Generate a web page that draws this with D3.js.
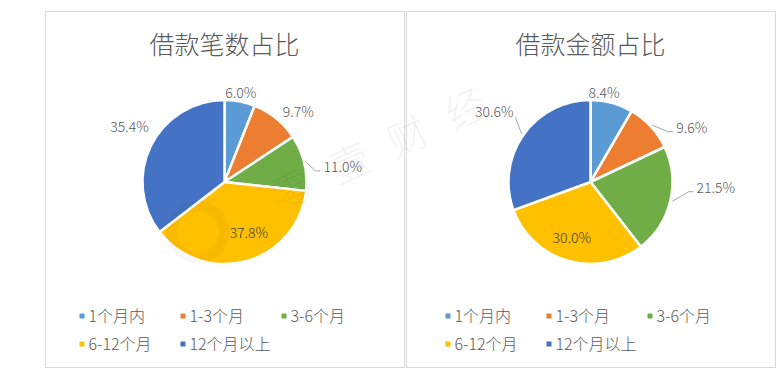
<!DOCTYPE html>
<html>
<head>
<meta charset="utf-8">
<script src="https://cdn.jsdelivr.net/npm/d3@7"></script>
<style>
  body { margin: 0; background: #fff; }
  text { font-family: "Noto Sans CJK SC", "Noto Sans", sans-serif; font-weight: 300; }
</style>
</head>
<body>
<div id="chart"></div>
<script>
const CATEGORIES = ["1个月内", "1-3个月", "3-6个月", "6-12个月", "12个月以上"]
const COLORS = ["#5B9BD5", "#ED7D31", "#70AD47", "#FFC000", "#4472C4"]

const COUNT_TITLE = "借款笔数占比"
const COUNT_VALUES = [6.0, 9.7, 11.0, 37.8, 35.4]

const AMOUNT_TITLE = "借款金额占比"
const AMOUNT_VALUES = [8.4, 9.6, 21.5, 30.0, 30.6]

// label placement tweaks (Excel "best fit"), per slice: [dx, dy, inside, leader]
const COUNT_LABELS = [[-2, 7, false, false], [12, 6, false, false], [23, 8, false, true], [10, 0, true, false], [-7, -12, false, false]]
const AMOUNT_LABELS = [[-12, 6, false, false], [29, 12, false, true], [30, -17, false, true], [-4, 5, true, false], [-16, -14, false, true]]

var width = 778,
    height = 380;

var svg = d3.select("#chart").append("svg")
  .attr("width", width)
  .attr("height", height);

const radius = 82;
const pie = d3.pie().sort(null).value(d => d);
const arc = d3.arc().innerRadius(0).outerRadius(radius);

drawPanel({x0: 45, x1: 404, cy: 182}, COUNT_TITLE, COUNT_VALUES, COUNT_LABELS);
drawPanel({x0: 406, x1: 775, cy: 182}, AMOUNT_TITLE, AMOUNT_VALUES, AMOUNT_LABELS);

// faint watermark across the middle
var wm = svg.append("g")
  .attr("transform", "translate(280,212) rotate(-25)");
wm.append("text")
  .attr("font-size", 40)
  .attr("fill", "#000")
  .attr("fill-opacity", 0.06)
  .attr("letter-spacing", 24)
  .text("零壹财经");
svg.append("circle")
  .attr("cx", 198).attr("cy", 232).attr("r", 26)
  .attr("fill", "none")
  .attr("stroke", "#000").attr("stroke-opacity", 0.03)
  .attr("stroke-width", 10);

function drawPanel(box, title, values, labels) {
  var cx = (box.x0 + box.x1) / 2;
  var g = svg.append("g");

  g.append("rect")
    .attr("x", box.x0 + 0.5)
    .attr("y", 11.5)
    .attr("width", box.x1 - box.x0)
    .attr("height", 356)
    .attr("fill", "#fff")
    .attr("stroke", "#d9d9d9");

  g.append("text")
    .attr("x", cx)
    .attr("y", 54)
    .attr("text-anchor", "middle")
    .attr("font-size", 25)
    .attr("fill", "#595959")
    .text(title);

  var arcs = pie(values);
  var pg = g.append("g").attr("transform", "translate(" + cx + "," + box.cy + ")");

  pg.selectAll("path")
    .data(arcs)
    .join("path")
      .attr("d", arc)
      .attr("fill", (d, i) => COLORS[i])
      .attr("stroke", "#fff")
      .attr("stroke-width", 2.5)
      .attr("stroke-linejoin", "round");

  // data labels
  arcs.forEach(function(d, i) {
    var lab = labels[i];
    var mid = (d.startAngle + d.endAngle) / 2;
    var r = lab[2] ? radius * 0.65 : radius + 16;
    var x = Math.sin(mid) * r + lab[0];
    var y = -Math.cos(mid) * r + lab[1];
    var t = pg.append("text")
      .attr("x", x)
      .attr("y", y)
      .attr("dy", "0.36em")
      .attr("text-anchor", "middle")
      .attr("font-size", 14)
      .attr("fill", lab[2] ? "#404040" : "#595959")
      .text(d3.format(".1f")(d.value) + "%");

    if (lab[3]) {
      var w = t.node().getComputedTextLength();
      var ex = Math.sin(mid) * (radius + 2),
          ey = -Math.cos(mid) * (radius + 2);
      var pts;
      if (x > 0) {
        var sx = x - w / 2 - 3;
        pts = [[ex, ey], [sx - 5, y + 4], [sx, y + 4]];
      } else {
        var sx = x + w / 2 + 2;
        pts = [[ex, ey], [sx, y + 6]];
      }
      pg.append("path")
        .attr("d", d3.line()(pts))
        .attr("fill", "none")
        .attr("stroke", "#a6a6a6")
        .attr("stroke-width", 1);
    }
  });

  // legend, 3 per row
  var legend = g.append("g")
    .selectAll("g")
    .data(CATEGORIES)
    .join("g")
      .attr("transform", (d, i) => "translate(" + (cx - 145 + (i % 3) * 101) + "," + (316 + Math.floor(i / 3) * 28) + ")");

  legend.append("rect")
    .attr("x", 0)
    .attr("y", -2.5)
    .attr("width", 5)
    .attr("height", 5)
    .attr("fill", (d, i) => COLORS[i]);

  legend.append("text")
    .attr("x", 9)
    .attr("dy", "0.36em")
    .attr("font-size", 16)
    .attr("fill", "#595959")
    .text(d => d);
}
</script>
</body>
</html>
